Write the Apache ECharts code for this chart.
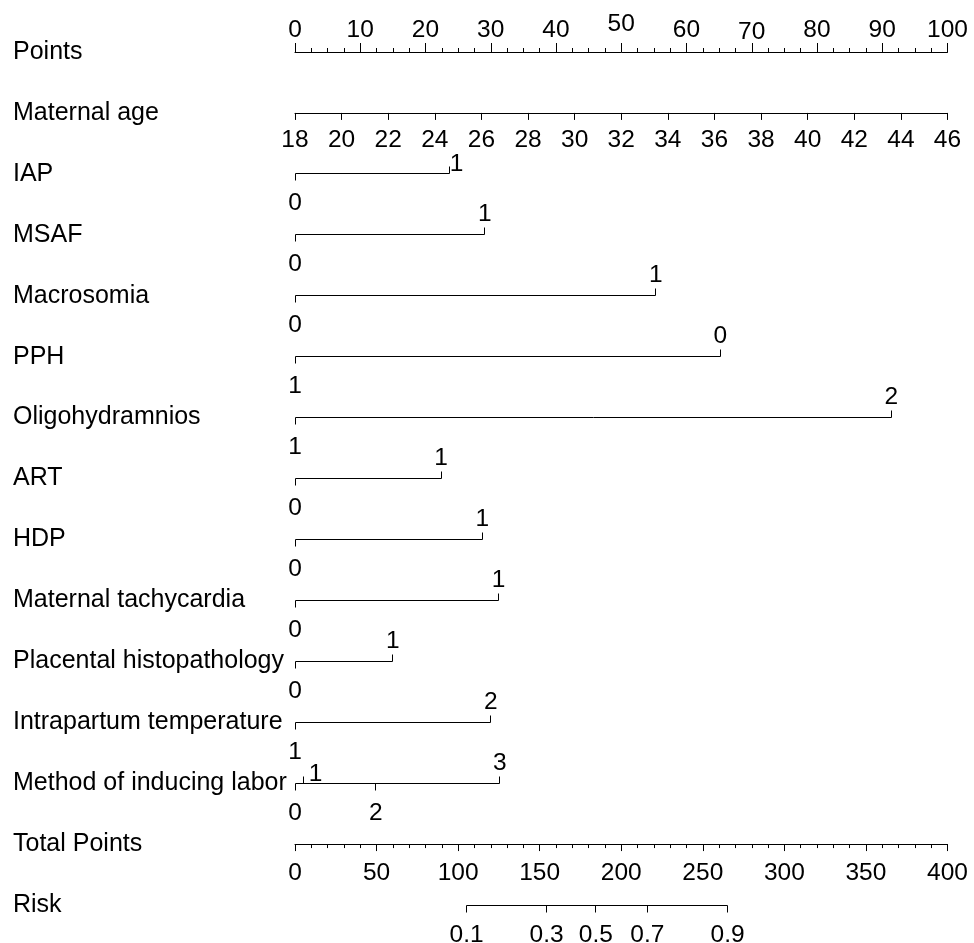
<!DOCTYPE html>
<html><head><meta charset="utf-8">
<script src="https://cdn.jsdelivr.net/npm/echarts@6/dist/echarts.min.js"></script>
<style>html,body{margin:0;padding:0;background:#fff}#c{width:974px;height:943px}</style>
</head><body><div id="c"></div>
<script>
// ---------- data ----------
const rowNames = ['Points','Maternal age','IAP','MSAF','Macrosomia','PPH','Oligohydramnios','ART','HDP',
  'Maternal tachycardia','Placental histopathology','Intrapartum temperature','Method of inducing labor',
  'Total Points','Risk'];

const pointsTickLabels = [0,10,20,30,40,50,60,70,80,90,100];
const ageTickLabels = [18,20,22,24,26,28,30,32,34,36,38,40,42,44,46];
const totalTickLabels = [0,50,100,150,200,250,300,350,400];

const iapLevels = ['0','1'];            const iapPoints = [0, 23.7];
const msafLevels = ['0','1'];           const msafPoints = [0, 29.1];
const macrosomiaLevels = ['0','1'];     const macrosomiaPoints = [0, 55.3];
const pphLevels = ['1','0'];            const pphPoints = [0, 65.2];
const oligoLevels = ['1','2'];          const oligoPoints = [0, 91.4];
const artLevels = ['0','1'];            const artPoints = [0, 22.4];
const hdpLevels = ['0','1'];            const hdpPoints = [0, 28.7];
const tachyLevels = ['0','1'];          const tachyPoints = [0, 31.2];
const placentaLevels = ['0','1'];       const placentaPoints = [0, 15.0];
const tempLevels = ['1','2'];           const tempPoints = [0, 30.0];
const inductionLevels = ['0','1','2','3']; const inductionPoints = [0, 1.3, 12.4, 31.4];

const riskLabels = ['0.1','0.3','0.5','0.7','0.9'];
const riskTotalPoints = [105.2, 154.2, 184.4, 216.0, 265.2];

// ---------- build ----------
const variables = [
  {name:'IAP', levels:iapLevels, points:iapPoints},
  {name:'MSAF', levels:msafLevels, points:msafPoints},
  {name:'Macrosomia', levels:macrosomiaLevels, points:macrosomiaPoints},
  {name:'PPH', levels:pphLevels, points:pphPoints},
  {name:'Oligohydramnios', levels:oligoLevels, points:oligoPoints},
  {name:'ART', levels:artLevels, points:artPoints},
  {name:'HDP', levels:hdpLevels, points:hdpPoints},
  {name:'Maternal tachycardia', levels:tachyLevels, points:tachyPoints},
  {name:'Placental histopathology', levels:placentaLevels, points:placentaPoints},
  {name:'Intrapartum temperature', levels:tempLevels, points:tempPoints},
  {name:'Method of inducing labor', levels:inductionLevels, points:inductionPoints}
];
variables.forEach(v => { v.row = rowNames.indexOf(v.name); });

// label nudges (placement style, not data)
const nudges = {'IAP:1':{dx:7, dy:11}, 'Method of inducing labor:1':{dx:12, dy:11}};

const FONT_FAMILY = '"Liberation Sans", Arial, Helvetica, sans-serif';
const FS = 24.5;      // tick labels
const FS_ROW = 25;    // row names
const FONT = FS + 'px ' + FONT_FAMILY;
const INK = '#000';
const TICK = 7;
const crisp = v => Math.round(v - 0.5) + 0.5;

function lineEl(x1,y1,x2,y2){
  return {type:'line', shape:{x1:x1,y1:y1,x2:x2,y2:y2}, style:{stroke:INK, lineWidth:1}};
}
function textEl(t,x,y,va){
  return {type:'text', style:{text:t, x:x, y:y, align:'center', verticalAlign:va, fill:INK, font:FONT}};
}

function renderVar(params, api){
  const v = variables[params.dataIndex];
  const pts = v.points;
  const lo = api.coord([Math.min.apply(null, pts), v.row]);
  const hi = api.coord([Math.max.apply(null, pts), v.row]);
  const y = crisp(lo[1]);
  const ch = [lineEl(crisp(lo[0]), y, crisp(hi[0]), y)];
  const order = pts.map((p,k)=>k).sort((a,b)=>pts[a]-pts[b]);
  order.forEach((k,j) => {
    const c = api.coord([pts[k], v.row]);
    const x = crisp(c[0]);
    const up = j % 2 === 1;
    ch.push(lineEl(x, y, x, y + (up ? -TICK : TICK)));
    const nd = nudges[v.name + ':' + v.levels[k]] || {dx:0, dy:0};
    if (up) ch.push(textEl(v.levels[k], c[0] + nd.dx, y - 8 + nd.dy, 'bottom'));
    else ch.push(textEl(v.levels[k], c[0] + nd.dx, y + 17 + nd.dy, 'top'));
  });
  return {type:'group', children:ch};
}

const riskRow = rowNames.indexOf('Risk');
function renderRisk(params, api){
  const lo = api.coord([riskTotalPoints[0], riskRow]);
  const hi = api.coord([riskTotalPoints[riskTotalPoints.length-1], riskRow]);
  const y = crisp(lo[1]);
  const ch = [lineEl(crisp(lo[0]), y, crisp(hi[0]), y)];
  riskTotalPoints.forEach((p,k) => {
    const c = api.coord([p, riskRow]);
    const x = crisp(c[0]);
    ch.push(lineEl(x, y, x, y + TICK));
    ch.push(textEl(riskLabels[k], c[0], y + 17, 'top'));
  });
  return {type:'group', children:ch};
}

const TOP = 52, BOTTOM_Y = 905;
const ROW = (BOTTOM_Y - TOP) / (rowNames.length - 1);

const axisCommon = {
  type:'value',
  axisLine:{show:true, lineStyle:{color:INK, width:1}},
  splitLine:{show:false},
  minorSplitLine:{show:false},
  axisLabel:{color:INK, fontSize:FS, fontFamily:FONT_FAMILY}
};

const option = {
  animation:false,
  backgroundColor:'#fff',
  textStyle:{fontFamily:FONT_FAMILY},
  grid:{left:295, right:26.5, top:TOP, bottom:943 - BOTTOM_Y, containLabel:false},
  xAxis:[
    Object.assign({}, axisCommon, {
      position:'top', offset:0, min:pointsTickLabels[0], max:pointsTickLabels[pointsTickLabels.length-1], interval:10,
      axisTick:{show:true, length:9, lineStyle:{color:INK}},
      minorTick:{show:true, splitNumber:4, length:4, lineStyle:{color:INK}},
      axisLabel:{color:INK, fontSize:FS, fontFamily:FONT_FAMILY, margin:9,
        formatter: v => v === 50 ? '{hi|' + v + '}' : (v === 70 ? '{lo|' + v + '}' : String(v)),
        rich:{hi:{fontSize:FS, fontFamily:FONT_FAMILY, color:INK, padding:[0,0,6,0]},
              lo:{fontSize:FS, fontFamily:FONT_FAMILY, color:INK, height:FS - 2}}}
    }),
    Object.assign({}, axisCommon, {
      position:'top', offset:-ROW, min:ageTickLabels[0], max:ageTickLabels[ageTickLabels.length-1], interval:2,
      axisTick:{show:true, inside:true, length:7, lineStyle:{color:INK}},
      axisLabel:{color:INK, fontSize:FS, fontFamily:FONT_FAMILY, inside:true, margin:15}
    }),
    Object.assign({}, axisCommon, {
      position:'bottom', offset:-ROW, min:totalTickLabels[0], max:totalTickLabels[totalTickLabels.length-1], interval:50,
      axisTick:{show:true, length:7, lineStyle:{color:INK}},
      minorTick:{show:true, splitNumber:5, length:4, lineStyle:{color:INK}},
      axisLabel:{color:INK, fontSize:FS, fontFamily:FONT_FAMILY, margin:17}
    })
  ],
  yAxis:{
    type:'category', inverse:true, boundaryGap:false, data:rowNames,
    axisLine:{show:false}, axisTick:{show:false}, splitLine:{show:false},
    axisLabel:{interval:0, align:'left', margin:282, color:INK, fontSize:FS_ROW, fontFamily:FONT_FAMILY,
      padding:[2,0,0,0]}
  },
  series:[
    {type:'custom', xAxisIndex:0, yAxisIndex:0, renderItem:renderVar, clip:false, silent:true,
     data: variables.map(v => [Math.max.apply(null, v.points), v.row])},
    {type:'custom', xAxisIndex:2, yAxisIndex:0, renderItem:renderRisk, clip:false, silent:true,
     data: [[riskTotalPoints[riskTotalPoints.length-1], riskRow]]}
  ]
};

const chart = echarts.init(document.getElementById('c'), null, {renderer:'canvas'});
chart.setOption(option);
</script>
</body></html>
